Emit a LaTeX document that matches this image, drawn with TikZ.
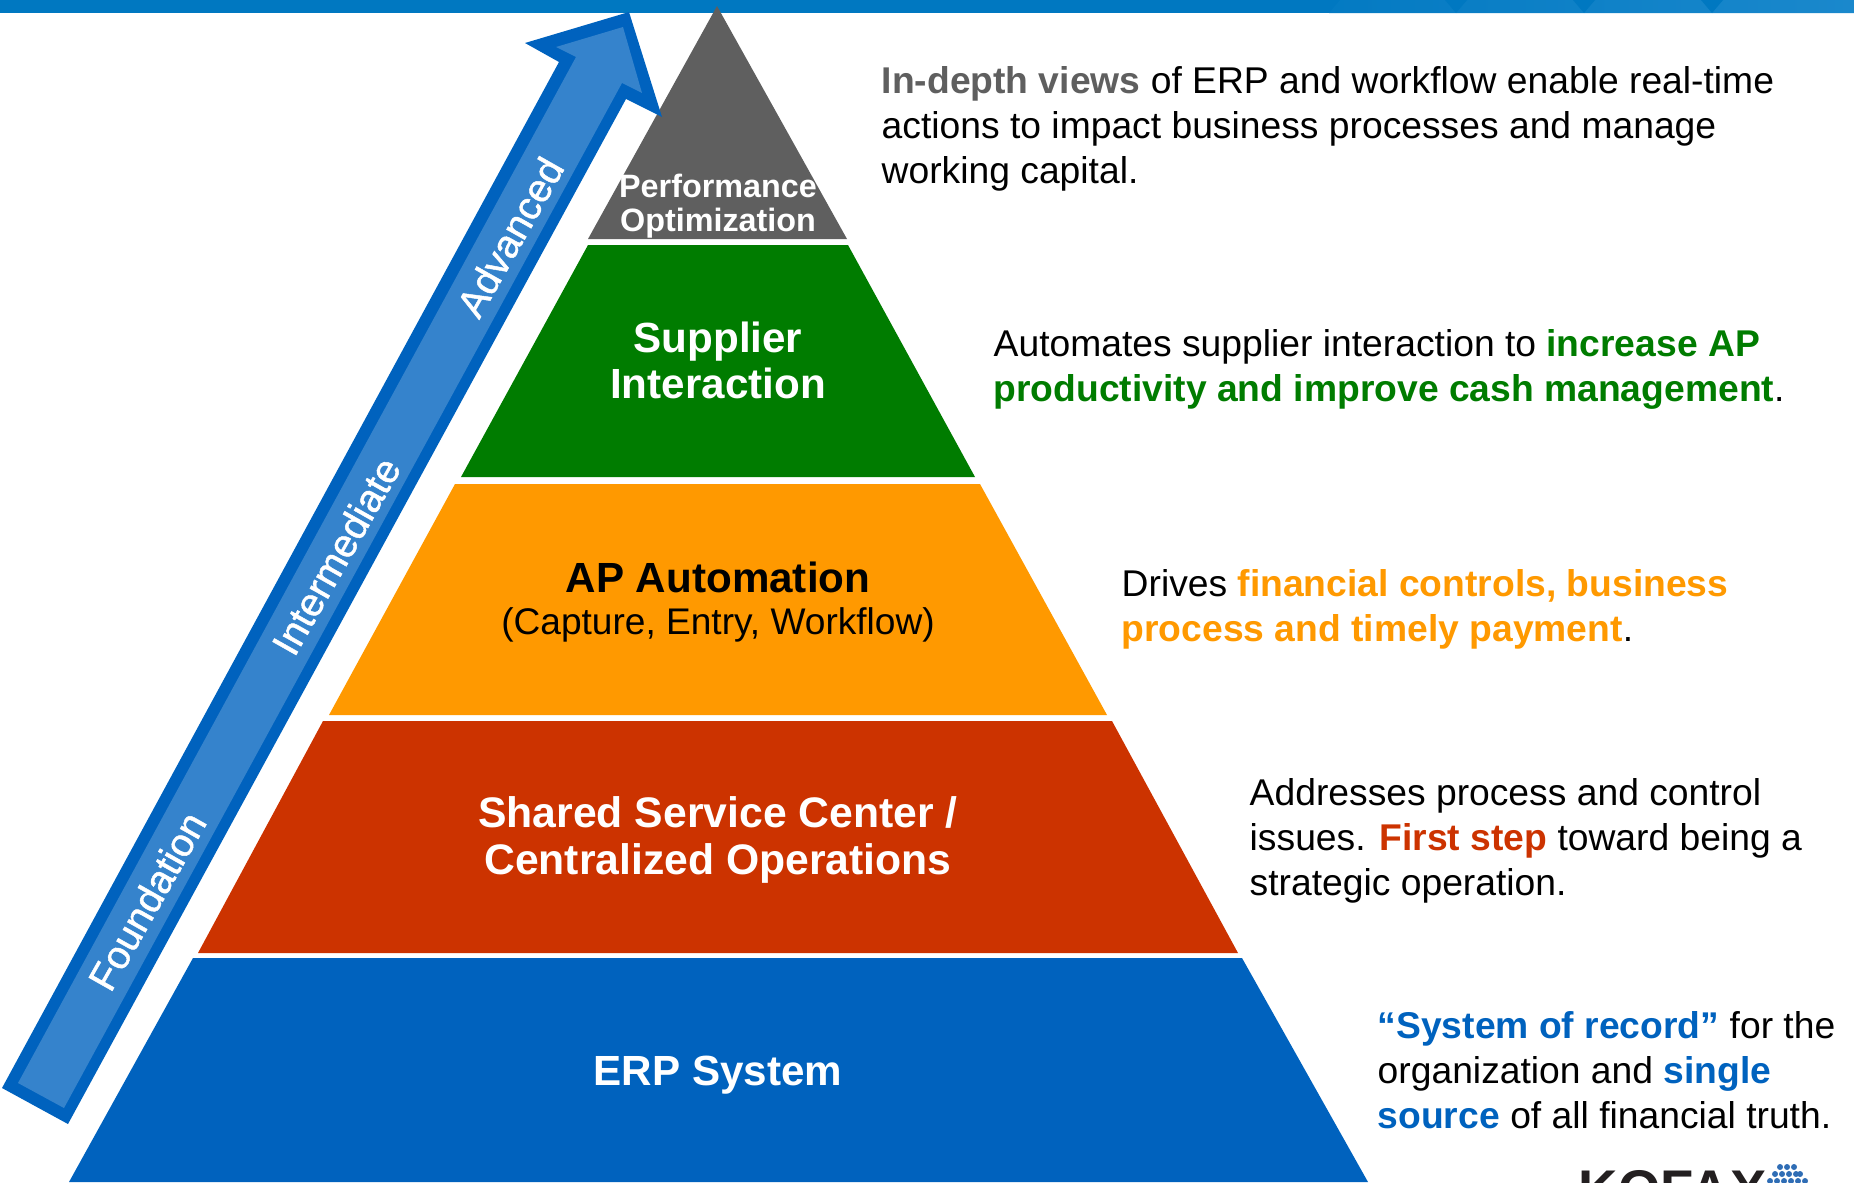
\documentclass[tikz,border=0pt]{standalone}
\usepackage{fontspec}
\setmainfont{Liberation Sans}
\newfontfamily\risefont[FakeBold=1.2]{Liberation Sans}
\usepackage{tikz}
\definecolor{barblue}{HTML}{0078C1}
\definecolor{barlight}{HTML}{1A88CC}
\definecolor{kofaxblue}{HTML}{0062BE}
\definecolor{arrowfill}{HTML}{3583CC}
\definecolor{perfgray}{HTML}{5F5F5F}
\definecolor{suppgreen}{HTML}{007C00}
\definecolor{aporange}{HTML}{FF9900}
\definecolor{sscred}{HTML}{CC3300}
\definecolor{logoblack}{HTML}{231F20}
\definecolor{globeblue}{HTML}{2F6DB5}
\tikzset{
    tierlabel/.style={font=\fontsize{12}{13.1}\selectfont\bfseries, align=center, text=white},
    desc/.style={font=\fontsize{10.6}{12.8}\selectfont, align=left, anchor=north west, inner sep=0pt, text=black},
    risinglabel/.style={font=\risefont\fontsize{11.2}{12.8}\selectfont, text=white, rotate=60.5}
}
\begin{document}
\begin{tikzpicture}
    \useasboundingbox (0,0) rectangle (18.54,11.82);
    \clip (0,0) rectangle (18.54,11.82);

    % Top bar
    \fill[barblue] (0,11.69) rectangle (13.45,11.82);
    \shade[left color=barblue!85!barlight, right color=barlight] (13.29,11.69) -- (13.40,11.82) -- (18.54,11.82) -- (18.54,11.69) -- cycle;
    \foreach \x in {14.56,15.84,17.12} {
        \fill[barblue] (\x-0.11,11.82) -- (\x+0.11,11.82) -- (\x,11.69) -- cycle;
    }

    % Pyramid tiers
    \fill[perfgray] (7.17,11.76) -- (8.47,9.43) -- (5.88,9.43) -- cycle;
    \fill[suppgreen] (5.88,9.37) -- (8.48,9.37) -- (9.75,7.05) -- (4.61,7.05) -- cycle;
    \fill[aporange] (4.55,6.98) -- (9.80,6.98) -- (11.07,4.67) -- (3.29,4.67) -- cycle;
    \fill[sscred] (3.23,4.61) -- (11.12,4.61) -- (12.38,2.29) -- (1.98,2.29) -- cycle;
    \fill[kofaxblue] (1.93,2.24) -- (12.42,2.24) -- (13.68,0) -- (0.69,0) -- cycle;

    % Rising arrow
    \fill[kofaxblue] (0.02,0.94) -- (5.59,11.20) -- (5.25,11.39) -- (6.29,11.70) -- (6.62,10.65) -- (6.26,10.83) -- (0.68,0.58) -- cycle;
    \fill[arrowfill] (0.18,0.99) -- (5.76,11.25) -- (5.56,11.35) -- (6.23,11.55) -- (6.42,10.89) -- (6.22,10.99) -- (0.64,0.74) -- cycle;

    % Tier labels
    \node[tierlabel, font=\fontsize{9.2}{9.75}\selectfont\bfseries] (perf) at (7.18,9.76) {Performance\\Optimization};
    \node[tierlabel] (supp) at (7.18,8.22) {Supplier\\Interaction};
    \node[tierlabel, text=black, align=center] (ap) at (7.18,5.80) {AP Automation\\[-1pt]{\fontsize{10.55}{12.8}\selectfont\mdseries (Capture, Entry, Workflow)}};
    \node[tierlabel, font=\fontsize{12.15}{13.6}\selectfont\bfseries] (ssc) at (7.18,3.42) {Shared Service Center /\\Centralized Operations};
    \node[tierlabel] (erp) at (7.18,1.07) {ERP System};

    % Arrow labels
    \node[risinglabel] (found) at (1.47,2.81) {Foundation};
    \node[risinglabel] (inter) at (3.36,6.26) {Intermediate};
    \node[risinglabel] (adv) at (5.10,9.45) {Advanced};

    % Descriptions
    \node[desc] (perfdesc) at (8.81,11.165) {\textcolor{perfgray}{\bfseries In-depth views} of ERP and workflow enable real-time\\actions to impact business processes and manage\\working capital.};
    \node[desc] (suppdesc) at (9.93,8.535) {Automates supplier interaction to \textcolor{suppgreen}{\bfseries increase AP}\\\textcolor{suppgreen}{\bfseries productivity and improve cash management}.};
    \node[desc] (apdesc) at (11.21,6.135) {Drives \textcolor{aporange}{\bfseries financial controls, business}\\\textcolor{aporange}{\bfseries process and timely payment}.};
    \node[desc] (sscdesc) at (12.49,4.04) {Addresses process and control\\issues. \textcolor{sscred}{\bfseries First step} toward being a\\strategic operation.};
    \node[desc] (erpdesc) at (13.77,1.715) {\textcolor{kofaxblue}{\bfseries “System of record”} for the\\organization and \textcolor{kofaxblue}{\bfseries single}\\\textcolor{kofaxblue}{\bfseries source} of all financial truth.};

    % Logo, cut off by the page edge
    \node[anchor=base west, inner sep=0pt, text=logoblack, font=\fontsize{15.5}{15.5}\selectfont\bfseries] (logo) at (15.78,-0.26) {KOFAX};
    \foreach \x in {17.80,17.87,17.94} {
        \fill[globeblue] (\x,0.15) circle (0.03);
    }
    \foreach \x in {17.75,17.82,17.89,17.96,18.00} {
        \fill[globeblue] (\x,0.08) circle (0.03);
    }
    \foreach \x in {17.70,17.77,17.84,17.91,17.98,18.05} {
        \fill[globeblue] (\x,0.01) circle (0.03);
    }
\end{tikzpicture}
\end{document}
